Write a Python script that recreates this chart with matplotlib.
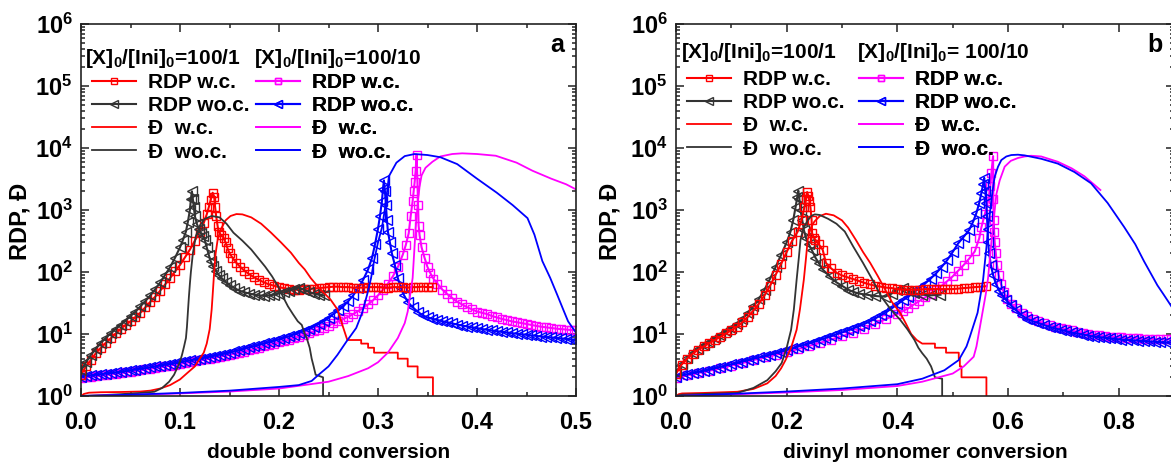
import numpy as np
import matplotlib
matplotlib.use("Agg")
import matplotlib.pyplot as plt
from matplotlib.ticker import MultipleLocator, FixedLocator, LogLocator, FuncFormatter, NullFormatter

plt.rcParams['font.family'] = ['Liberation Sans', 'DejaVu Sans']
plt.rcParams['font.weight'] = 'bold'
plt.rcParams['mathtext.fontset'] = 'custom'
plt.rcParams['mathtext.rm'] = 'Liberation Sans:bold'
plt.rcParams['mathtext.bf'] = 'Liberation Sans:bold'
plt.rcParams['mathtext.it'] = 'Liberation Sans:bold'

RED = '#ff0000'
BLK = '#333333'
MAG = '#ff00ff'
BLU = '#0000ff'

labels = ['RDP w.c.', 'RDP wo.c.', 'Đ  w.c.', 'Đ  wo.c.']
titles_a = ['[X]$_0$/[Ini]$_0$=100/1', '[X]$_0$/[Ini]$_0$=100/10']
titles_b = ['[X]$_0$/[Ini]$_0$=100/1', '[X]$_0$/[Ini]$_0$= 100/10']
decades = [1, 10, 100, 1e3, 1e4, 1e5, 1e6]

# ---------------- panel a : double bond conversion ----------------
a_rdp_wc_1 = [(0.000, 2.2), (0.005, 3.0), (0.010, 3.8), (0.015, 4.9), (0.020, 6.0), (0.025, 7.2),
              (0.030, 8.5), (0.035, 10.2), (0.040, 12), (0.045, 14), (0.050, 16), (0.055, 18.8),
              (0.060, 22), (0.065, 27), (0.070, 33), (0.075, 40), (0.080, 50), (0.085, 63),
              (0.090, 80), (0.095, 102), (0.100, 130), (0.105, 172), (0.110, 230), (0.115, 320),
              (0.120, 450), (0.124, 620), (0.127, 850), (0.129, 1100), (0.131, 1450), (0.133, 1900),
              (0.1345, 1650), (0.1355, 1100), (0.1365, 800), (0.138, 550), (0.139, 450), (0.141, 400),
              (0.144, 360), (0.146, 300), (0.148, 240), (0.150, 200), (0.153, 170), (0.157, 140),
              (0.161, 120), (0.165, 105), (0.170, 92), (0.175, 82), (0.180, 74), (0.185, 68),
              (0.190, 63), (0.195, 60), (0.200, 57), (0.205, 55), (0.210, 53), (0.215, 52),
              (0.220, 52), (0.225, 53), (0.230, 54), (0.235, 54), (0.240, 55), (0.245, 56),
              (0.250, 57), (0.255, 58), (0.260, 58), (0.265, 57), (0.270, 57), (0.275, 56),
              (0.280, 56), (0.285, 56), (0.290, 57), (0.295, 57), (0.300, 57), (0.305, 56),
              (0.310, 56), (0.315, 57), (0.320, 57), (0.325, 57), (0.330, 56), (0.335, 57),
              (0.340, 57), (0.345, 58), (0.350, 57), (0.355, 57)]

a_rdp_woc_1 = [(0.000, 2.6), (0.005, 3.5), (0.010, 4.6), (0.015, 5.8), (0.020, 7.2), (0.025, 8.6),
               (0.030, 10.2), (0.035, 12), (0.040, 14), (0.045, 16.5), (0.050, 19.5), (0.055, 23),
               (0.060, 28), (0.065, 34), (0.070, 42), (0.075, 53), (0.080, 68), (0.085, 90),
               (0.090, 120), (0.095, 170), (0.100, 250), (0.103, 330), (0.106, 450), (0.108, 650),
               (0.110, 1000), (0.111, 1500), (0.112, 2000), (0.113, 1500), (0.114, 1100), (0.115, 800),
               (0.117, 600), (0.119, 500), (0.121, 420), (0.123, 380), (0.125, 330), (0.127, 250),
               (0.129, 190), (0.131, 150), (0.133, 125), (0.136, 105), (0.139, 90), (0.142, 80),
               (0.146, 70), (0.150, 62), (0.155, 55), (0.160, 50), (0.165, 47), (0.170, 45),
               (0.175, 43), (0.180, 42), (0.185, 41), (0.190, 42), (0.195, 43), (0.200, 45),
               (0.205, 47), (0.210, 50), (0.215, 53), (0.220, 56), (0.225, 52), (0.230, 48),
               (0.235, 45), (0.240, 43), (0.245, 42)]

a_d_wc_1 = [(0, 1.0), (0.003, 1.08), (0.008, 1.13), (0.02, 1.15), (0.04, 1.16), (0.06, 1.18),
            (0.07, 1.22), (0.08, 1.32), (0.09, 1.5), (0.1, 1.85), (0.108, 2.4), (0.115, 3.0),
            (0.12, 4.0), (0.124, 5.0), (0.127, 7), (0.13, 12), (0.132, 25), (0.133, 43),
            (0.1345, 100), (0.136, 200), (0.138, 330), (0.141, 480), (0.146, 680), (0.151, 800),
            (0.157, 860), (0.163, 850), (0.172, 760), (0.182, 600), (0.192, 430), (0.202, 300),
            (0.212, 205), (0.22, 140), (0.226, 110), (0.232, 80), (0.239, 59), (0.246, 45),
            (0.252, 36), (0.259, 25), (0.264, 14), (0.269, 8), (0.283, 8), (0.283, 7),
            (0.290, 7), (0.290, 6), (0.296, 6), (0.296, 5), (0.320, 5), (0.320, 4), (0.330, 4),
            (0.330, 3), (0.340, 3), (0.340, 2), (0.3555, 2), (0.3555, 1)]

a_d_woc_1 = [(0, 1.0), (0.02, 1.03), (0.04, 1.07), (0.06, 1.12), (0.074, 1.17), (0.082, 1.35),
             (0.089, 1.7), (0.094, 2.2), (0.097, 2.8), (0.1, 3.6), (0.102, 4.6), (0.104, 6.2),
             (0.106, 8.6), (0.107, 13), (0.108, 23), (0.109, 40), (0.110, 65), (0.111, 100),
             (0.113, 200), (0.116, 380), (0.12, 560), (0.125, 720), (0.132, 800), (0.14, 760),
             (0.147, 600), (0.154, 430), (0.163, 320), (0.172, 230), (0.18, 160), (0.186, 122),
             (0.193, 85), (0.199, 59), (0.204, 40), (0.209, 28), (0.214, 21), (0.219, 16),
             (0.223, 14), (0.226, 10), (0.228, 8.6), (0.231, 6), (0.233, 4), (0.235, 3),
             (0.237, 2.2), (0.2445, 2.0), (0.2445, 1.0)]

a_rdp_wc_10 = [(0.000, 1.95), (0.005, 2.0), (0.010, 2.05), (0.015, 2.1), (0.020, 2.15), (0.025, 2.2),
               (0.030, 2.25), (0.035, 2.3), (0.040, 2.35), (0.045, 2.4), (0.050, 2.47), (0.055, 2.54),
               (0.060, 2.61), (0.065, 2.68), (0.070, 2.75), (0.075, 2.83), (0.080, 2.92), (0.085, 3.0),
               (0.090, 3.1), (0.095, 3.2), (0.100, 3.3), (0.105, 3.4), (0.110, 3.5), (0.115, 3.62),
               (0.120, 3.75), (0.125, 3.88), (0.130, 4.0), (0.135, 4.15), (0.140, 4.3), (0.145, 4.45),
               (0.150, 4.6), (0.155, 4.8), (0.160, 5.0), (0.165, 5.2), (0.170, 5.45), (0.175, 5.7),
               (0.180, 6.0), (0.185, 6.3), (0.190, 6.6), (0.195, 6.95), (0.200, 7.3), (0.205, 7.7),
               (0.210, 8.1), (0.215, 8.6), (0.220, 9.1), (0.225, 9.7), (0.230, 10.3), (0.235, 11.0),
               (0.240, 11.8), (0.245, 12.7), (0.250, 13.7), (0.255, 14.8), (0.260, 16), (0.265, 17.5),
               (0.270, 19), (0.275, 21), (0.280, 23.5), (0.285, 26.5), (0.290, 30), (0.295, 35),
               (0.300, 42), (0.305, 52), (0.310, 65), (0.315, 85), (0.320, 120), (0.325, 190),
               (0.328, 270), (0.331, 420), (0.333, 800), (0.335, 1400), (0.336, 2000), (0.337, 2800),
               (0.338, 4300), (0.339, 7800), (0.3405, 1200), (0.341, 560), (0.342, 390), (0.344, 250),
               (0.347, 170), (0.350, 120), (0.353, 95), (0.356, 78), (0.360, 65), (0.365, 52),
               (0.370, 44), (0.375, 38), (0.380, 33), (0.385, 30), (0.390, 27), (0.395, 25),
               (0.400, 23), (0.405, 22), (0.410, 21), (0.415, 19.5), (0.420, 18.5), (0.425, 17.5),
               (0.430, 16.8), (0.435, 16), (0.440, 15.5), (0.445, 15), (0.450, 14.5), (0.455, 14),
               (0.460, 13.5), (0.465, 13.1), (0.470, 12.8), (0.475, 12.5), (0.480, 12.2), (0.485, 12),
               (0.490, 11.8), (0.495, 11.6), (0.500, 11.5)]

a_rdp_woc_10 = [(0.000, 2.05), (0.005, 2.10), (0.010, 2.15), (0.015, 2.20), (0.020, 2.25), (0.025, 2.30),
                (0.030, 2.35), (0.035, 2.40), (0.040, 2.45), (0.045, 2.52), (0.050, 2.60), (0.055, 2.67),
                (0.060, 2.75), (0.065, 2.82), (0.070, 2.90), (0.075, 3.00), (0.080, 3.10), (0.085, 3.20),
                (0.090, 3.30), (0.095, 3.40), (0.100, 3.50), (0.105, 3.62), (0.110, 3.75), (0.115, 3.87),
                (0.120, 4.00), (0.125, 4.15), (0.130, 4.30), (0.135, 4.47), (0.140, 4.65), (0.145, 4.82),
                (0.150, 5.00), (0.155, 5.25), (0.160, 5.50), (0.165, 5.80), (0.170, 6.10), (0.175, 6.40),
                (0.180, 6.70), (0.185, 7.05), (0.190, 7.40), (0.195, 7.80), (0.200, 8.20), (0.205, 8.70),
                (0.210, 9.20), (0.215, 9.80), (0.220, 10.5), (0.225, 11.2), (0.230, 12.0), (0.235, 13.2),
                (0.240, 14.5), (0.245, 16.0), (0.250, 18.0), (0.255, 21), (0.260, 24), (0.265, 28),
                (0.270, 34), (0.275, 42), (0.280, 55), (0.285, 75), (0.290, 110), (0.294, 170),
                (0.297, 280), (0.300, 500), (0.302, 800), (0.304, 1400), (0.305, 2200), (0.306, 3000),
                (0.307, 2000), (0.308, 1200), (0.309, 700), (0.310, 450), (0.312, 300), (0.314, 200),
                (0.317, 130), (0.320, 80), (0.323, 56), (0.326, 43), (0.330, 33), (0.335, 27),
                (0.340, 23), (0.345, 20), (0.350, 18.5), (0.355, 17.5), (0.360, 16.8), (0.365, 16),
                (0.370, 15.4), (0.375, 14.8), (0.380, 14.2), (0.385, 13.7), (0.390, 13.2), (0.395, 12.8),
                (0.400, 12.4), (0.405, 12), (0.410, 11.7), (0.415, 11.4), (0.420, 11.1), (0.425, 10.8),
                (0.430, 10.6), (0.435, 10.3), (0.440, 10.1), (0.445, 9.9), (0.450, 9.7), (0.455, 9.5),
                (0.460, 9.3), (0.465, 9.1), (0.470, 8.9), (0.475, 8.8), (0.480, 8.6), (0.485, 8.5),
                (0.490, 8.3), (0.495, 8.2), (0.500, 8.0)]

a_d_wc_10 = [(0, 1.0), (0.05, 1.04), (0.1, 1.1), (0.15, 1.18), (0.2, 1.32), (0.25, 1.7),
             (0.27, 2.1), (0.29, 2.8), (0.3, 3.5), (0.31, 5), (0.32, 8.6), (0.327, 15),
             (0.33, 23), (0.335, 80), (0.338, 500), (0.34, 1200), (0.342, 2400), (0.344, 3600),
             (0.348, 4800), (0.355, 6000), (0.363, 7300), (0.375, 8000), (0.385, 8200), (0.4, 8000),
             (0.419, 7500), (0.44, 5800), (0.456, 4300), (0.475, 3200), (0.49, 2600), (0.5, 2150)]

a_d_woc_10 = [(0, 1.0), (0.05, 1.05), (0.1, 1.12), (0.15, 1.22), (0.2, 1.4), (0.22, 1.5),
              (0.233, 1.75), (0.24, 2.2), (0.25, 3.0), (0.259, 4.6), (0.268, 7.5), (0.278, 12.5),
              (0.284, 22), (0.289, 43), (0.293, 80), (0.296, 150), (0.3, 300), (0.304, 520),
              (0.3075, 1170), (0.311, 3500), (0.3186, 5800), (0.327, 7400), (0.337, 8000),
              (0.35, 7700), (0.363, 7100), (0.38, 5500), (0.4, 3200), (0.42, 1900), (0.436, 1200),
              (0.451, 740), (0.458, 400), (0.466, 150), (0.474, 80), (0.481, 43), (0.487, 25),
              (0.492, 16), (0.5, 10.5)]

# ---------------- panel b : divinyl monomer conversion ----------------
b_rdp_wc_1 = [(0.00, 2.3), (0.01, 3.2), (0.02, 4.0), (0.03, 4.8), (0.04, 5.6), (0.05, 6.3),
              (0.06, 7.1), (0.07, 8.0), (0.08, 9.0), (0.09, 10.2), (0.10, 11.5), (0.11, 13),
              (0.12, 15.5), (0.13, 19), (0.14, 24), (0.15, 31), (0.16, 42), (0.17, 60),
              (0.18, 90), (0.19, 135), (0.20, 210), (0.21, 320), (0.22, 450), (0.227, 700),
              (0.232, 1100), (0.235, 1500), (0.237, 1950), (0.239, 1700), (0.241, 1400), (0.243, 1100),
              (0.245, 700), (0.246, 420), (0.249, 360), (0.252, 330), (0.258, 280), (0.265, 230),
              (0.271, 140), (0.28, 115), (0.291, 96), (0.30, 88), (0.31, 82), (0.32, 77),
              (0.33, 72), (0.34, 67), (0.35, 63), (0.36, 60), (0.37, 58), (0.38, 56),
              (0.39, 55), (0.40, 53), (0.41, 52), (0.42, 52), (0.43, 52), (0.44, 52),
              (0.45, 53), (0.46, 53), (0.47, 53), (0.48, 53), (0.49, 53), (0.50, 53),
              (0.51, 54), (0.52, 55), (0.53, 56), (0.54, 57), (0.55, 58), (0.561, 59)]

b_rdp_woc_1 = [(0.00, 2.4), (0.01, 3.3), (0.02, 4.1), (0.03, 5.0), (0.04, 5.8), (0.05, 6.6),
               (0.06, 7.5), (0.07, 8.5), (0.08, 9.6), (0.09, 11), (0.10, 12.5), (0.11, 14.5),
               (0.12, 17.5), (0.13, 22), (0.14, 28), (0.15, 37), (0.16, 52), (0.17, 78),
               (0.18, 120), (0.19, 190), (0.20, 300), (0.207, 450), (0.212, 700), (0.216, 1100),
               (0.219, 1600), (0.221, 2050), (0.223, 1500), (0.225, 1000), (0.228, 700), (0.231, 480),
               (0.235, 350), (0.240, 280), (0.245, 230), (0.252, 170), (0.258, 140), (0.265, 110),
               (0.278, 85), (0.29, 68), (0.30, 60), (0.311, 52), (0.32, 48), (0.33, 45),
               (0.345, 43), (0.36, 41), (0.378, 40), (0.39, 45), (0.40, 52), (0.41, 55),
               (0.42, 50), (0.43, 46), (0.445, 43), (0.46, 42), (0.478, 43)]

b_d_wc_1 = [(0, 1.0), (0.005, 1.07), (0.011, 1.1), (0.05, 1.12), (0.111, 1.17), (0.14, 1.3),
            (0.165, 1.6), (0.18, 2.1), (0.19, 2.8), (0.198, 3.8), (0.208, 6), (0.218, 11.7),
            (0.224, 25), (0.231, 75), (0.235, 170), (0.238, 330), (0.243, 500), (0.25, 650),
            (0.26, 800), (0.271, 870), (0.285, 820), (0.3, 680), (0.311, 520), (0.325, 330),
            (0.338, 210), (0.351, 140), (0.365, 85), (0.378, 52), (0.39, 33), (0.405, 22),
            (0.415, 15), (0.425, 10), (0.435, 8), (0.445, 7), (0.468, 7), (0.468, 6),
            (0.488, 6), (0.488, 5), (0.511, 5), (0.511, 4), (0.513, 4), (0.513, 3),
            (0.516, 3), (0.516, 2), (0.561, 2), (0.561, 1)]

b_d_woc_1 = [(0, 1.0), (0.011, 1.05), (0.05, 1.08), (0.111, 1.12), (0.14, 1.35), (0.165, 1.8),
             (0.18, 2.5), (0.191, 3.4), (0.2, 6), (0.208, 11.7), (0.213, 25), (0.218, 75),
             (0.222, 170), (0.225, 330), (0.23, 500), (0.238, 680), (0.245, 810), (0.251, 850),
             (0.26, 830), (0.275, 720), (0.29, 600), (0.305, 450), (0.32, 260), (0.338, 140),
             (0.355, 75), (0.371, 40), (0.388, 25), (0.405, 17), (0.418, 12), (0.431, 8),
             (0.438, 6), (0.445, 4.9), (0.453, 4), (0.461, 3), (0.468, 2), (0.481, 1.9),
             (0.481, 1.0)]

b_rdp_wc_10 = [(0.00, 1.95), (0.02, 2.15), (0.04, 2.35), (0.06, 2.55), (0.08, 2.8), (0.10, 3.1),
               (0.12, 3.4), (0.14, 3.8), (0.16, 4.2), (0.18, 4.6), (0.20, 5.1), (0.22, 5.7),
               (0.24, 6.4), (0.26, 7.2), (0.28, 8.1), (0.30, 9.2), (0.32, 10.5), (0.34, 12.2),
               (0.36, 14.5), (0.38, 17.5), (0.40, 21), (0.41, 23.5), (0.42, 26), (0.43, 30),
               (0.44, 34), (0.45, 39), (0.46, 45), (0.47, 52), (0.48, 60), (0.49, 71),
               (0.50, 85), (0.51, 105), (0.52, 130), (0.53, 165), (0.54, 215), (0.548, 350),
               (0.552, 530), (0.558, 850), (0.564, 1400), (0.568, 2400), (0.570, 3900), (0.573, 7400),
               (0.5735, 1500), (0.574, 700), (0.575, 440), (0.576, 300), (0.578, 200), (0.580, 130),
               (0.583, 90), (0.587, 65), (0.592, 48), (0.598, 37), (0.605, 31), (0.615, 26),
               (0.625, 22), (0.635, 19.5), (0.645, 17.5), (0.655, 16), (0.665, 15), (0.675, 14),
               (0.685, 13.2), (0.695, 12.5), (0.705, 11.9), (0.715, 11.4), (0.725, 10.9), (0.735, 10.5),
               (0.745, 10.1), (0.755, 9.8), (0.765, 9.5), (0.775, 9.3), (0.785, 9.1), (0.795, 8.9),
               (0.805, 8.8), (0.815, 8.7), (0.825, 8.6), (0.835, 8.5), (0.845, 8.4), (0.855, 8.4),
               (0.865, 8.3), (0.875, 8.3), (0.885, 8.3), (0.895, 8.3)]

b_rdp_woc_10 = [(0.00, 2.05), (0.01, 2.15), (0.02, 2.25), (0.03, 2.35), (0.04, 2.45), (0.05, 2.55),
                (0.06, 2.65), (0.07, 2.8), (0.08, 2.95), (0.09, 3.1), (0.10, 3.25), (0.11, 3.4),
                (0.12, 3.6), (0.13, 3.8), (0.14, 4.0), (0.15, 4.2), (0.16, 4.4), (0.17, 4.65),
                (0.18, 4.9), (0.19, 5.2), (0.20, 5.5), (0.21, 5.85), (0.22, 6.25), (0.23, 6.65),
                (0.24, 7.0), (0.25, 7.5), (0.26, 8.0), (0.27, 8.6), (0.28, 9.2), (0.29, 9.9),
                (0.30, 10.6), (0.31, 11.4), (0.32, 12.3), (0.33, 13.3), (0.34, 14.5), (0.35, 16),
                (0.36, 17.8), (0.37, 20), (0.38, 22.5), (0.39, 26), (0.40, 30), (0.41, 35),
                (0.42, 40), (0.43, 47), (0.44, 55), (0.45, 65), (0.46, 78), (0.47, 95),
                (0.48, 120), (0.49, 155), (0.50, 210), (0.51, 290), (0.52, 370), (0.53, 480),
                (0.537, 650), (0.543, 900), (0.548, 1300), (0.552, 1900), (0.555, 2600), (0.557, 3300),
                (0.559, 2000), (0.561, 1300), (0.562, 800), (0.563, 500), (0.564, 300), (0.566, 200),
                (0.569, 130), (0.573, 90), (0.578, 65), (0.584, 50), (0.59, 42), (0.597, 35),
                (0.605, 29), (0.615, 24), (0.625, 20), (0.635, 17.5), (0.645, 16), (0.655, 15),
                (0.665, 14), (0.675, 13), (0.685, 12.3), (0.695, 11.7), (0.705, 11.1), (0.715, 10.6),
                (0.725, 10.2), (0.735, 9.8), (0.745, 9.4), (0.755, 9.1), (0.765, 8.9), (0.775, 8.7),
                (0.785, 8.5), (0.795, 8.3), (0.805, 8.1), (0.815, 8.0), (0.825, 7.9), (0.835, 7.8),
                (0.845, 7.7), (0.855, 7.6), (0.865, 7.5), (0.875, 7.4), (0.885, 7.3), (0.895, 7.3)]

b_d_wc_10 = [(0, 1.0), (0.1, 1.06), (0.2, 1.14), (0.3, 1.25), (0.4, 1.45), (0.445, 1.7),
             (0.5, 2.3), (0.52, 3.0), (0.538, 4.3), (0.543, 6.3), (0.553, 20), (0.56, 45),
             (0.564, 80), (0.568, 200), (0.573, 530), (0.576, 1000), (0.579, 1800), (0.585, 3000),
             (0.594, 5000), (0.605, 6200), (0.618, 6900), (0.63, 7300), (0.642, 7500), (0.66, 7300),
             (0.69, 6000), (0.715, 4700), (0.738, 3500), (0.755, 2600), (0.767, 2100)]

b_d_woc_10 = [(0, 1.0), (0.1, 1.08), (0.2, 1.18), (0.3, 1.32), (0.4, 1.55), (0.445, 1.9),
              (0.485, 2.6), (0.511, 3.8), (0.525, 6.3), (0.531, 9), (0.545, 22), (0.555, 75),
              (0.561, 250), (0.565, 600), (0.568, 1000), (0.572, 2000), (0.576, 3460), (0.582, 5000),
              (0.588, 6400), (0.597, 7300), (0.606, 7700), (0.618, 7800), (0.63, 7600), (0.66, 6700),
              (0.69, 5600), (0.72, 4100), (0.75, 2700), (0.78, 1300), (0.81, 530), (0.83, 280),
              (0.846, 148), (0.858, 95), (0.87, 61), (0.88, 45), (0.89, 33), (0.9, 24)]

SQ = 6
TRI = 7


def rdp(ax, data, color, marker, ms):
    x, y = zip(*data)
    return ax.plot(x, y, '-', color=color, lw=1.5, marker=marker, ms=ms,
                   mfc='none', mec=color, mew=1.0)[0]


def disp(ax, data, color):
    x, y = zip(*data)
    return ax.plot(x, y, '-', color=color, lw=1.3)[0]


fig = plt.figure(figsize=(11.71, 4.62), dpi=100)
axa = fig.add_axes([81 / 1171, 1 - 396 / 462, 495 / 1171, 372 / 462])
axb = fig.add_axes([676 / 1171, 1 - 396 / 462, 498 / 1171, 372 / 462])

# panel a
m10a = rdp(axa, a_rdp_wc_10, MAG, 's', SQ)
b10a = rdp(axa, a_rdp_woc_10, BLU, '<', TRI)
r1a = rdp(axa, a_rdp_wc_1, RED, 's', SQ)
k1a = rdp(axa, a_rdp_woc_1, BLK, '<', TRI)
dr1a = disp(axa, a_d_wc_1, RED)
dk1a = disp(axa, a_d_woc_1, BLK)
dm10a = disp(axa, a_d_wc_10, MAG)
db10a = disp(axa, a_d_woc_10, BLU)

# panel b
m10b = rdp(axb, b_rdp_wc_10, MAG, 's', SQ)
b10b = rdp(axb, b_rdp_woc_10, BLU, '<', TRI)
k1b = rdp(axb, b_rdp_woc_1, BLK, '<', TRI)
r1b = rdp(axb, b_rdp_wc_1, RED, 's', SQ)
dr1b = disp(axb, b_d_wc_1, RED)
dk1b = disp(axb, b_d_woc_1, BLK)
dm10b = disp(axb, b_d_wc_10, MAG)
db10b = disp(axb, b_d_woc_10, BLU)

panels = [
    (axa, 0.5, 0.1, 0.05, 'double bond conversion', 'a', titles_a,
     [r1a, k1a, dr1a, dk1a], [m10a, b10a, dm10a, db10a],
     (0.008, 0.907), (0.349, 0.907), (0.022, 0.868), (0.354, 0.868), -0.101),
    (axb, 0.9, 0.2, 0.1, 'divinyl monomer conversion', 'b', titles_b,
     [r1b, k1b, dr1b, dk1b], [m10b, b10b, dm10b, db10b],
     (0.010, 0.924), (0.363, 0.924), (0.022, 0.876), (0.367, 0.876), -0.110),
]

for ax, xmax, maj, mnr, xl, letter, tts, h1, h2, t1, t2, p1, p2, ylx in panels:
    ax.set_yscale('log')
    ax.set_ylim(1, 1e6)
    ax.set_xlim(0, xmax)
    ax.xaxis.set_major_locator(MultipleLocator(maj))
    ax.xaxis.set_minor_locator(MultipleLocator(mnr))
    ax.xaxis.set_major_formatter(FuncFormatter(lambda v, p: f'{v:.1f}'))
    ax.yaxis.set_major_locator(FixedLocator(decades))
    ax.yaxis.set_minor_locator(LogLocator(base=10, subs=range(2, 10), numticks=10))
    ax.yaxis.set_minor_formatter(NullFormatter())
    ax.yaxis.set_major_formatter(FuncFormatter(lambda v, p: r'$\mathbf{10^{%d}}$' % round(np.log10(v))))
    ax.tick_params(which='both', direction='in', top=True, right=True, width=1.1, color='#222222')
    ax.tick_params(which='major', length=6, labelsize=17)
    ax.tick_params(axis='x', which='major', pad=11)
    ax.tick_params(axis='y', which='major', pad=6)
    ax.tick_params(which='minor', length=3)
    for s in ax.spines.values():
        s.set_linewidth(1.2)
        s.set_color('#222222')
    ax.set_xlabel(xl, fontsize=15, fontweight='bold', labelpad=6)
    ax.set_ylabel('RDP, Đ', fontsize=17, fontweight='bold')
    ax.yaxis.set_label_coords(ylx, 0.47)
    ax.text(0.962, 0.944, letter, transform=ax.transAxes, fontsize=18, fontweight='bold',
            ha='center', va='center')
    for hs, tt, tpos, pos in [(h1, tts[0], t1, p1), (h2, tts[1], t2, p2)]:
        ax.text(tpos[0], tpos[1], tt, transform=ax.transAxes, fontsize=15, fontweight='bold',
                ha='left', va='center')
        leg = ax.legend(hs, labels, loc='upper left', bbox_to_anchor=pos,
                        frameon=False, handlelength=2.1, handletextpad=0.6,
                        labelspacing=0.2, borderpad=0, borderaxespad=0, numpoints=1,
                        markerscale=0.8, prop={'size': 15, 'weight': 'bold'})
        ax.add_artist(leg)

fig.savefig('out.png', dpi=100)
